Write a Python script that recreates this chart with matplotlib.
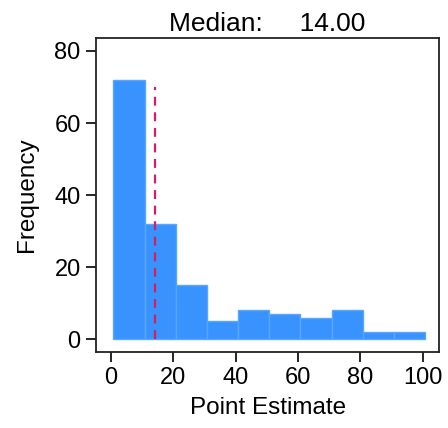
import numpy as np
import matplotlib
matplotlib.use('Agg')
import matplotlib.pyplot as plt

plt.rcParams['font.family'] = ['Liberation Sans', 'DejaVu Sans']

# histogram bins (width 10) and counts
bin_edges = [0.8, 10.8, 20.8, 30.8, 40.8, 50.8, 60.8, 70.8, 80.8, 90.8, 100.8]
counts = [72, 32, 15, 5, 8, 7, 6, 8, 2, 2]
median = 14.0
median_top = 70
x_ticks = [0, 20, 40, 60, 80, 100]
y_ticks = [0, 20, 40, 60, 80]

fig = plt.figure(figsize=(4.48, 4.28), dpi=100)
ax = fig.add_axes([0.2143, 0.178, 0.766, 0.734])

lefts = np.array(bin_edges[:-1])
widths = np.diff(bin_edges)
ax.bar(lefts, counts, width=widths, align='edge',
       color='#3893ff', edgecolor='#5aa6ff', linewidth=1.0)
ax.plot([median, median], [0, median_top], color='#dc1a5e',
        linestyle=(0, (4, 3)), linewidth=1.6)

ax.set_xlim(-4.8, 105.3)
ax.set_ylim(-3.5, 83.7)
ax.set_xticks(x_ticks)
ax.set_yticks(y_ticks)
ax.tick_params(direction='out', length=7, width=1.2, labelsize=17, pad=4)
for s in ax.spines.values():
    s.set_linewidth(1.3)
    s.set_color('#222222')

ax.set_xlabel('Point Estimate', fontsize=17.5, labelpad=6)
ax.set_ylabel('Frequency', fontsize=17.5, labelpad=12)
ax.set_title('Median:     %.2f' % median, fontsize=19, pad=5)

fig.savefig('out.png', dpi=100)
